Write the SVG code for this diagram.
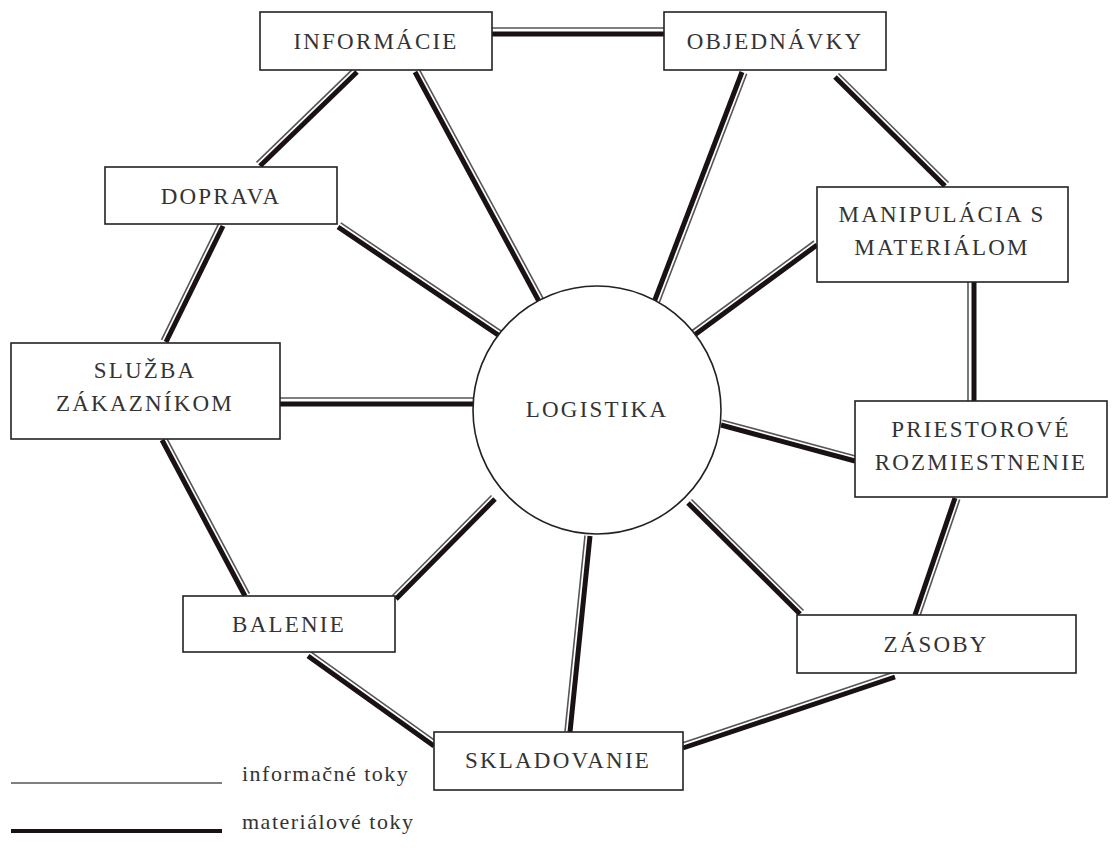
<svg xmlns="http://www.w3.org/2000/svg" width="1117" height="854" viewBox="0 0 1117 854">
<style>
.box{fill:#fff;stroke:#222;stroke-width:1.6}
.lbl{font-family:"Liberation Serif","Times New Roman",serif;font-size:23px;letter-spacing:2.2px;fill:#333;text-anchor:middle}
.leg{font-family:"Liberation Serif","Times New Roman",serif;font-size:22px;letter-spacing:1.5px;fill:#333}
.mat{stroke:#1a1212;stroke-width:5;fill:none}
.inf{stroke:#555;stroke-width:1.6;fill:none}
</style>
<rect width="1117" height="854" fill="#fff"/>
<g id="connectors">
<g><line class="mat" x1="492" y1="34" x2="664" y2="34"/><line class="inf" x1="492" y1="28" x2="664" y2="28"/></g>
<g><line class="mat" x1="357" y1="72" x2="260" y2="166"/><line class="inf" x1="353.5" y1="68.4" x2="256.5" y2="162.4"/></g>
<g><line class="mat" x1="415" y1="72" x2="548" y2="318"/><line class="inf" x1="419.4" y1="69.6" x2="552.4" y2="315.6"/></g>
<g><line class="mat" x1="338" y1="227" x2="510" y2="343"/><line class="inf" x1="340.8" y1="222.9" x2="512.8" y2="338.9"/></g>
<g><line class="mat" x1="742" y1="72" x2="648" y2="318"/><line class="inf" x1="746.7" y1="73.8" x2="652.7" y2="319.8"/></g>
<g><line class="mat" x1="835" y1="77" x2="945" y2="186"/><line class="inf" x1="838.5" y1="73.5" x2="948.5" y2="182.5"/></g>
<g><line class="mat" x1="817" y1="245" x2="685" y2="342"/><line class="inf" x1="814" y1="241" x2="682" y2="338"/></g>
<g><line class="mat" x1="974" y1="282" x2="974" y2="401"/><line class="inf" x1="968" y1="282" x2="968" y2="401"/></g>
<g><line class="mat" x1="855" y1="461" x2="721" y2="425"/><line class="inf" x1="856.3" y1="456.2" x2="722.3" y2="420.2"/></g>
<g><line class="mat" x1="955" y1="498" x2="915" y2="615"/><line class="inf" x1="959.7" y1="499.6" x2="919.7" y2="616.6"/></g>
<g><line class="mat" x1="800" y1="614" x2="688" y2="503"/><line class="inf" x1="803.5" y1="610.5" x2="691.5" y2="499.5"/></g>
<g><line class="mat" x1="895" y1="677" x2="683" y2="748"/><line class="inf" x1="893.4" y1="672.3" x2="681.4" y2="743.3"/></g>
<g><line class="mat" x1="590" y1="536" x2="570" y2="732"/><line class="inf" x1="585" y1="535.5" x2="565" y2="731.5"/></g>
<g><line class="mat" x1="434" y1="746" x2="308" y2="656"/><line class="inf" x1="436.9" y1="741.9" x2="310.9" y2="651.9"/></g>
<g><line class="mat" x1="396" y1="599" x2="495" y2="499"/><line class="inf" x1="392.5" y1="595.5" x2="491.5" y2="495.5"/></g>
<g><line class="mat" x1="245" y1="596" x2="162" y2="440"/><line class="inf" x1="249.4" y1="593.7" x2="166.4" y2="437.7"/></g>
<g><line class="mat" x1="280" y1="404" x2="474" y2="404"/><line class="inf" x1="280" y1="398" x2="474" y2="398"/></g>
<g><line class="mat" x1="166" y1="342" x2="223" y2="226"/><line class="inf" x1="161.5" y1="339.8" x2="218.5" y2="223.8"/></g>
</g>
<g id="n-informacie"><rect class="box" x="260" y="12" width="232" height="58"/><text class="lbl" x="376" y="49">INFORMÁCIE</text></g>
<g id="n-objednavky"><rect class="box" x="664" y="12" width="222" height="58"/><text class="lbl" x="775" y="49">OBJEDNÁVKY</text></g>
<g id="n-doprava"><rect class="box" x="105" y="167" width="232" height="57"/><text class="lbl" x="221" y="204">DOPRAVA</text></g>
<g id="n-manipulacia"><rect class="box" x="817" y="187" width="251" height="95"/><text class="lbl" x="942" y="222">MANIPULÁCIA S</text><text class="lbl" x="942" y="255">MATERIÁLOM</text></g>
<g id="n-sluzba"><rect class="box" x="11" y="343" width="269" height="96"/><text class="lbl" x="145" y="378">SLUŽBA</text><text class="lbl" x="145" y="411">ZÁKAZNÍKOM</text></g>
<g id="n-logistika"><circle class="box" cx="597" cy="410" r="124"/><text class="lbl" x="597" y="417">LOGISTIKA</text></g>
<g id="n-priestorove"><rect class="box" x="855" y="401" width="252" height="96"/><text class="lbl" x="981" y="437">PRIESTOROVÉ</text><text class="lbl" x="981" y="470">ROZMIESTNENIE</text></g>
<g id="n-zasoby"><rect class="box" x="797" y="615" width="279" height="58"/><text class="lbl" x="936" y="652">ZÁSOBY</text></g>
<g id="n-balenie"><rect class="box" x="183" y="596" width="212" height="56"/><text class="lbl" x="289" y="632">BALENIE</text></g>
<g id="n-skladovanie"><rect class="box" x="434" y="732" width="249" height="58"/><text class="lbl" x="558" y="768">SKLADOVANIE</text></g>
<g id="legend">
<line class="inf" x1="11" y1="783" x2="222" y2="783"/>
<text class="leg" x="242" y="781">informačné toky</text>
<line class="mat" x1="11" y1="831" x2="222" y2="831" style="stroke-width:4"/>
<text class="leg" x="242" y="829">materiálové toky</text>
</g>
</svg>
